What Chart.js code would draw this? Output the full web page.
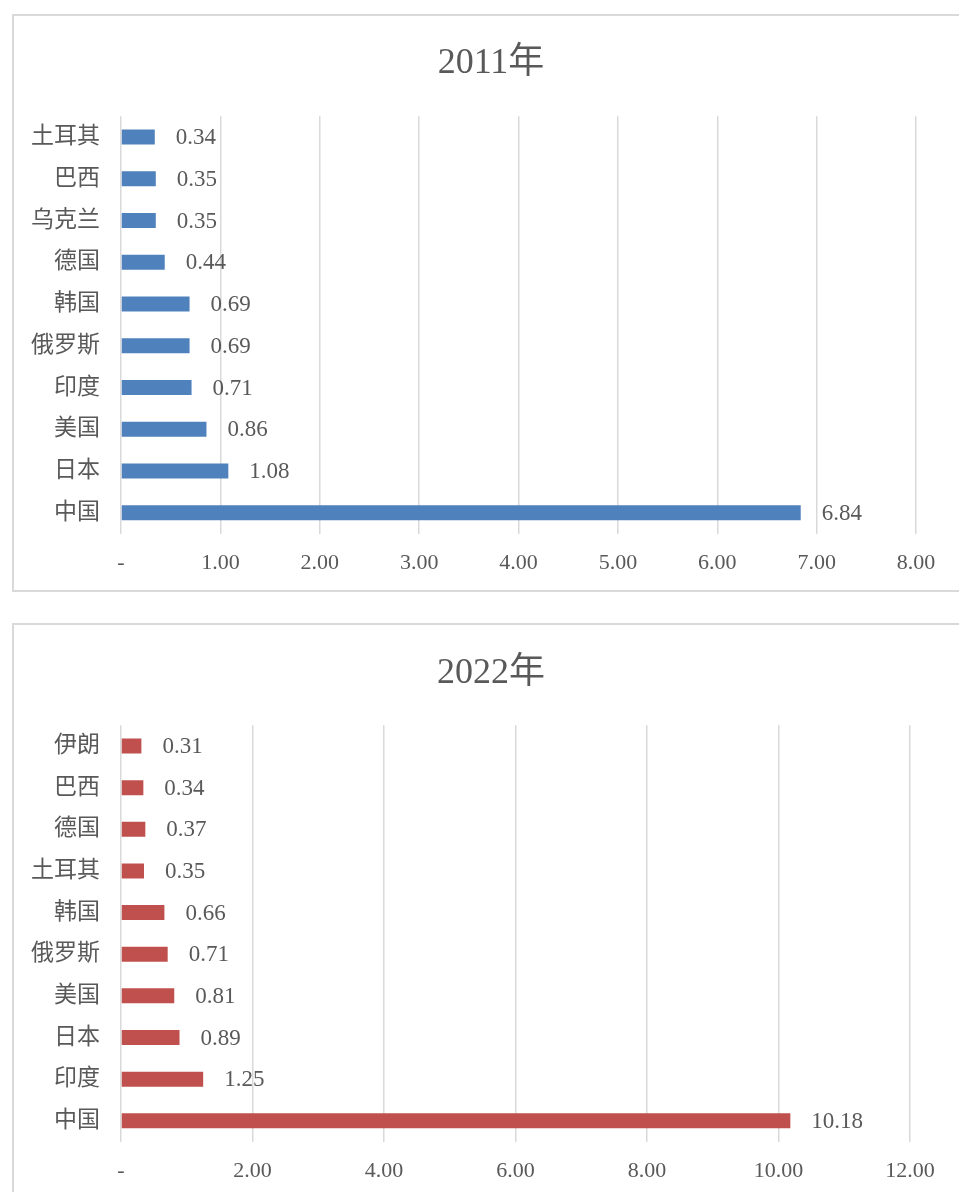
<!DOCTYPE html>
<html>
<head>
<meta charset="utf-8">
<script src="https://cdn.jsdelivr.net/npm/chart.js@4/dist/chart.umd.min.js"></script>
<style>
  body { margin: 0; background: #fff; width: 959px; height: 1192px; overflow: hidden; position: relative; }
  .box { position: absolute; left: 12px; width: 960px; border: 2px solid #d9d9d9; box-sizing: border-box; }
  .wrap { position: absolute; left: 0; width: 959px; }
</style>
</head>
<body>
<div class="box" style="top:14px;height:578px;"></div>
<div class="box" style="top:623px;height:600px;"></div>
<div class="wrap" style="top:0;height:606px;"><canvas id="chart2011"></canvas></div>
<div class="wrap" style="top:600px;height:608px;"><canvas id="chart2022"></canvas></div>
<script>
var labels2011 = ['土耳其', '巴西', '乌克兰', '德国', '韩国', '俄罗斯', '印度', '美国', '日本', '中国'];
var values2011 = [0.34, 0.35, 0.35, 0.44, 0.69, 0.69, 0.71, 0.86, 1.08, 6.84];
var labels2022 = ['伊朗', '巴西', '德国', '土耳其', '韩国', '俄罗斯', '美国', '日本', '印度', '中国'];
var values2022 = [0.31, 0.34, 0.37, 0.35, 0.66, 0.71, 0.81, 0.89, 1.25, 10.18];

var fontFamily = "'Liberation Serif', 'Noto Sans CJK SC', serif";
var textColor = '#595959';
var gridColor = '#d9d9d9';

// Draws the value just right of each bar end.
var valueLabels = {
  id: 'valueLabels',
  afterDatasetsDraw: function (chart) {
    var ctx = chart.ctx;
    var meta = chart.getDatasetMeta(0);
    var data = chart.data.datasets[0].data;
    ctx.save();
    ctx.font = '23px ' + fontFamily;
    ctx.fillStyle = textColor;
    ctx.textAlign = 'left';
    ctx.textBaseline = 'middle';
    meta.data.forEach(function (bar, i) {
      ctx.fillText(data[i].toFixed(2), bar.x + 21, bar.y + 1);
    });
    ctx.restore();
  }
};

// Centre the title on the bordered box, which runs past the window edge.
var titleCentre = {
  id: 'titleCentre',
  afterLayout: function (chart) {
    if (chart.titleBlock) {
      chart.titleBlock.left = 0;
      chart.titleBlock.right = 982;
    }
  }
};

function makeChart(id, title, labels, values, color, max, step, pad) {
  return new Chart(document.getElementById(id), {
    type: 'bar',
    data: {
      labels: labels,
      datasets: [{
        data: values,
        backgroundColor: color,
        categoryPercentage: 1,
        barPercentage: 0.36
      }]
    },
    options: {
      indexAxis: 'y',
      responsive: true,
      maintainAspectRatio: false,
      animation: false,
      events: [],
      layout: { padding: { left: 0, right: pad.right, top: 0, bottom: pad.bottom } },
      plugins: {
        legend: { display: false },
        tooltip: { enabled: false },
        title: {
          display: true,
          text: title,
          color: textColor,
          font: { family: fontFamily, size: 36, weight: 'normal' },
          padding: { top: pad.titleTop, bottom: pad.titleBottom }
        }
      },
      scales: {
        x: {
          min: 0,
          max: max,
          ticks: {
            stepSize: step,
            color: textColor,
            padding: 16,
            font: { family: fontFamily, size: 22 },
            callback: function (v) { return v === 0 ? '-' : v.toFixed(2); }
          },
          grid: { color: gridColor, lineWidth: 1.5, drawTicks: false },
          border: { display: false }
        },
        y: {
          ticks: {
            color: textColor,
            padding: 13,
            font: { family: fontFamily, size: 23 }
          },
          grid: { display: false },
          border: { display: false },
          afterFit: function (scale) { scale.width = 121; }
        }
      }
    },
    plugins: [valueLabels, titleCentre]
  });
}

makeChart('chart2011', '2011年', labels2011, values2011, '#4f81bd', 8, 1,
  { right: 43, bottom: 14, titleTop: 42, titleBottom: 31 });
makeChart('chart2022', '2022年', labels2022, values2022, '#c0504d', 12, 2,
  { right: 49, bottom: 8, titleTop: 52, titleBottom: 30 });
</script>
</body>
</html>
